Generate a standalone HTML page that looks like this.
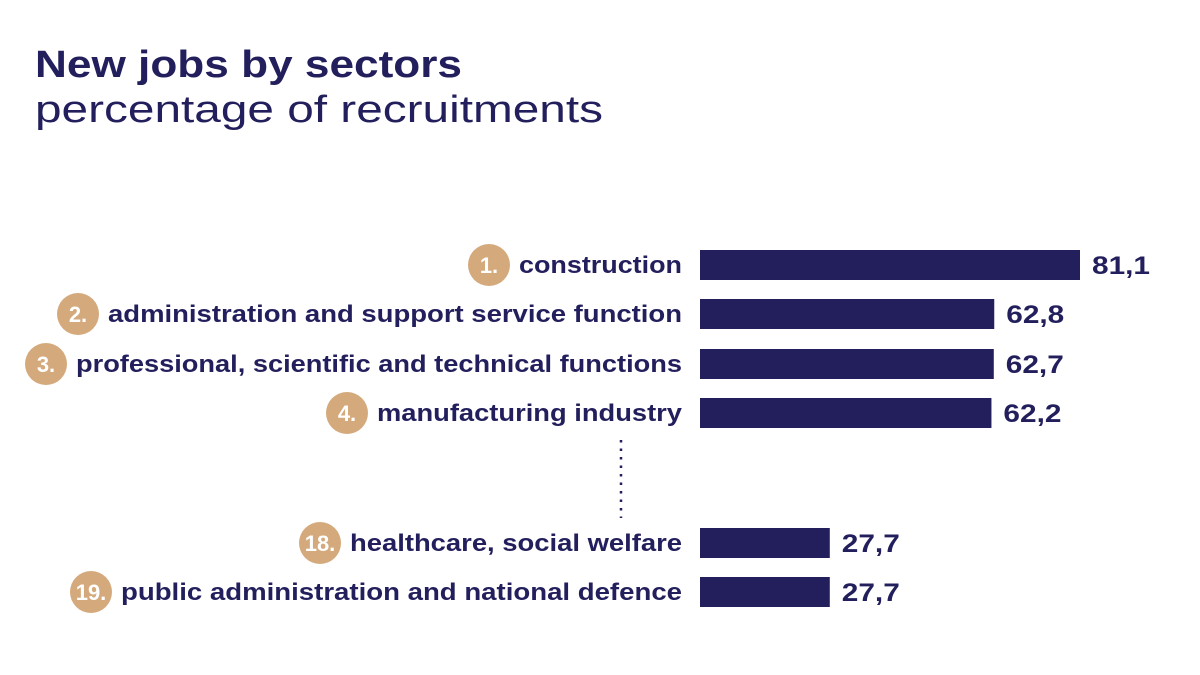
<!DOCTYPE html>
<html><head><meta charset="utf-8"><style>
html,body{margin:0;padding:0;background:#fff;}
svg{display:block;font-family:"Liberation Sans",sans-serif;}
</style></head><body>
<svg id="chart" width="1200" height="675" viewBox="0 0 1200 675">
<text x="35" y="77" font-size="38" font-weight="bold" fill="#221f5c" textLength="427" lengthAdjust="spacingAndGlyphs">New jobs by sectors</text>
<text x="35" y="122" font-size="38" fill="#221f5c" textLength="568" lengthAdjust="spacingAndGlyphs">percentage of recruitments</text>
<line x1="621" y1="440" x2="621" y2="518" stroke="#221f5c" stroke-width="2.5" stroke-dasharray="2.5,6"/>
<g id="rows"></g>
</svg>
<script>
const ranks = ["1.","2.","3.","4.","18.","19."];
const categories = ["construction","administration and support service function","professional, scientific and technical functions","manufacturing industry","healthcare, social welfare","public administration and national defence"];
const values = [81.1,62.8,62.7,62.2,27.7,27.7];
const valueLabels = ["81,1","62,8","62,7","62,2","27,7","27,7"];
const labelWidths = [163,574,606,305,332,561];
const rowY = [265,314,364,413,543,592];
const x0 = 700, scale = 380/81.1;
const xScale = v => x0 + v*scale;
const ns = "http://www.w3.org/2000/svg";
const g = document.getElementById("rows");
function mk(tag, attrs){const e=document.createElementNS(ns,tag);for(const k in attrs)e.setAttribute(k,attrs[k]);g.appendChild(e);return e;}
categories.forEach((c,i)=>{
  const y=rowY[i];
  const bar=mk("rect",{x:x0,y:y-15,width:xScale(values[i])-x0,height:30,fill:"#221f5c"});
  
  
  const v=mk("text",{x:xScale(values[i])+12,y:y+9,"font-size":25,"font-weight":"bold",fill:"#221f5c",textLength:58,lengthAdjust:"spacingAndGlyphs"});
  v.textContent=valueLabels[i];
  
  
  const w=labelWidths[i];
  const t=mk("text",{x:682-w,y:y+8,"font-size":24,"font-weight":"bold",fill:"#221f5c",textLength:w,lengthAdjust:"spacingAndGlyphs"});
  t.textContent=c;
  
  
  const cx=682-w-30;
  const circ=mk("circle",{cx:cx,cy:y,r:21,fill:"#d4aa7d"});
  
  
  const r=mk("text",{x:cx,y:y+8,"font-size":22,"font-weight":"bold",fill:"#fff","text-anchor":"middle"});
  r.textContent=ranks[i];
  
  
});
</script>
</body></html>
